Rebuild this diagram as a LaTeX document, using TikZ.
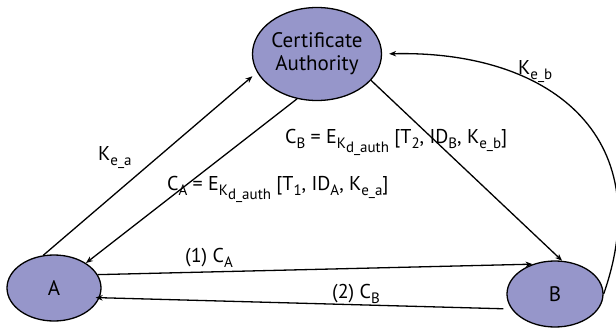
\documentclass[tikz,border=0pt]{standalone}
\usepackage{fontspec}
\setmainfont{PT Sans}
\usetikzlibrary{arrows.meta,shapes.geometric}
\definecolor{nodefill}{RGB}{150,150,202}
% lowered, smaller text for subscripts
\newcommand\lo[1]{\raisebox{-0.28em}{\fontsize{15}{15}\selectfont #1}}
\begin{document}
\begin{tikzpicture}[x=1pt,y=-1pt,
  party/.style={ellipse, draw, line width=1.3pt, fill=nodefill, inner sep=0pt,
    font=\fontsize{21}{23}\selectfont},
  msg/.style={line width=1.3pt, -{Stealth[length=7pt,width=5.5pt]}},
  lbl/.style={anchor=base west, inner sep=0pt, font=\fontsize{20}{24}\selectfont}]
\useasboundingbox (0,0) rectangle (616,332);

% parties
\node[party, minimum width=126pt, minimum height=93pt, align=center] (CA) at (317,54) {Certificate\\Authority};
\node[party, minimum width=94pt, minimum height=66pt] (A) at (54,288) {A};
\node[party, minimum width=96pt, minimum height=66pt] (B) at (555,294) {B};

% labels
\node[lbl] (lcb) at (285,143) {C\lo{B} = E\lo{K\raisebox{-0.28em}{d\_auth}} [T\lo{2}, ID\lo{B}, K\lo{e\_b}]};
\node[lbl] (lca) at (167,190) {C\lo{A} = E\lo{K\raisebox{-0.28em}{d\_auth}} [T\lo{1}, ID\lo{A}, K\lo{e\_a}]};
\node[lbl] (lkea) at (98,160) {K\lo{e\_a}};
\node[lbl] (lkeb) at (518,74) {K\lo{e\_b}};
\node[lbl] (l1) at (185,262) {(1) C\lo{A}};
\node[lbl] (l2) at (332,298) {(2) C\lo{B}};

% messages
\draw[msg, shorten >=6pt] (A.108) -- (CA.197);
\draw[msg] (CA.246) -- (A.38);
\draw[msg] (CA.334) -- (B.78);
\draw[msg] (A.17) -- (B.127);
\draw[msg, shorten <=8pt, shorten >=-4pt] (B.199) -- (A.348);
\draw[msg, shorten >=7pt] (B.east) .. controls +(56,-160) and +(165,-4) .. (CA.east);
\end{tikzpicture}
\end{document}
